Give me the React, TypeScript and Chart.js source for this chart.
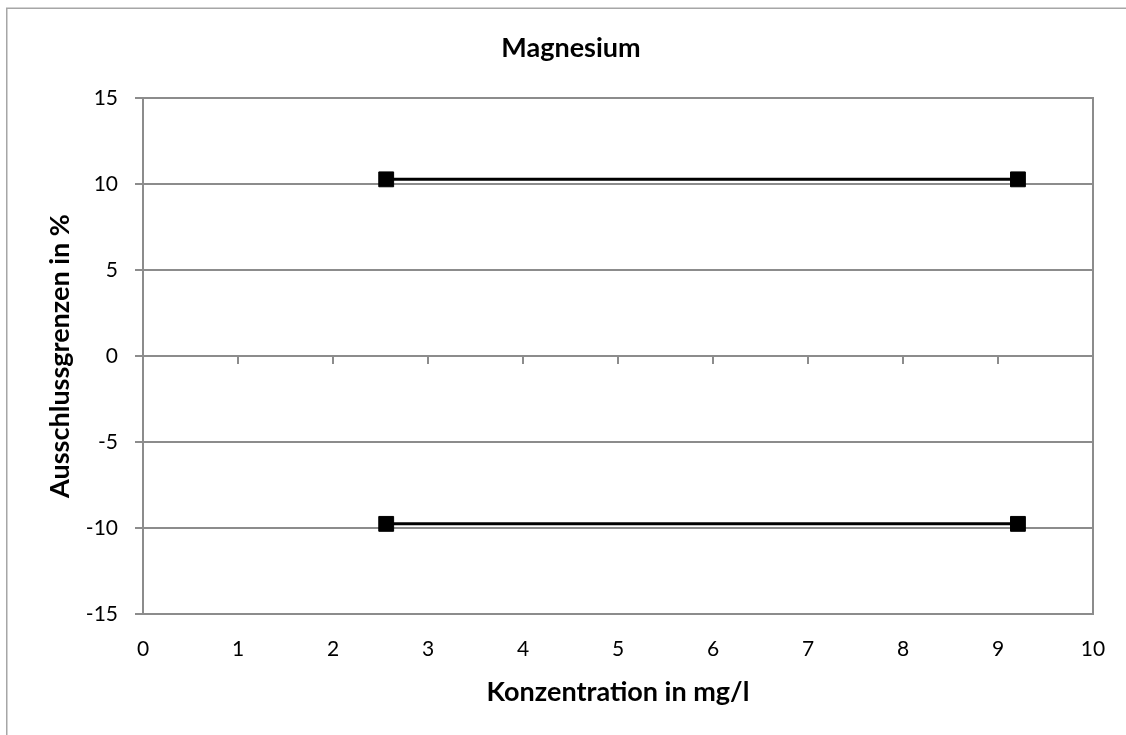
import React, { useEffect, useRef } from "react";
import { Chart, registerables } from "chart.js";

Chart.register(...registerables);

const chartTitle = "Magnesium";
const xAxisTitle = "Konzentration in mg/l";
const yAxisTitle = "Ausschlussgrenzen in %";
const concentrations = [2.56, 9.21];
const upperLimit = [10.27, 10.27];
const lowerLimit = [-9.76, -9.76];
const xTickValues = [0, 1, 2, 3, 4, 5, 6, 7, 8, 9, 10];
const yTickValues = [-15, -10, -5, 0, 5, 10, 15];

const GRAY = "#8c8c8c";

const framePlugin = {
  id: "framePlugin",
  beforeDraw(chart: any) {
    const ctx = chart.ctx;
    ctx.save();
    ctx.fillStyle = "#ffffff";
    ctx.fillRect(0, 0, chart.width, chart.height);
    ctx.strokeStyle = "#a6a6a6";
    ctx.lineWidth = 1.5;
    ctx.strokeRect(6.75, 8.25, chart.width + 40, chart.height + 40);
    ctx.restore();
  },
  beforeDatasetsDraw(chart: any) {
    const ctx = chart.ctx;
    const { chartArea, scales } = chart;
    ctx.save();
    ctx.strokeStyle = GRAY;
    ctx.lineWidth = 2;
    ctx.beginPath();
    ctx.moveTo(chartArea.right, chartArea.top - 1);
    ctx.lineTo(chartArea.right, chartArea.bottom + 1);
    ctx.stroke();
    const y0 = scales.y.getPixelForValue(0);
    ctx.beginPath();
    xTickValues.forEach((v) => {
      const x = Math.round(scales.x.getPixelForValue(v));
      ctx.moveTo(x, y0);
      ctx.lineTo(x, y0 + 8);
    });
    ctx.stroke();
    ctx.restore();
  },
};

export default function App() {
  const ref = useRef<HTMLCanvasElement>(null);
  useEffect(() => {
    if (!ref.current) return;
    const mk = (vals: number[]) => concentrations.map((x, i) => ({ x, y: vals[i] }));
    const dsStyle = {
      showLine: true,
      borderColor: "#000000",
      backgroundColor: "#000000",
      borderWidth: 3,
      pointStyle: "rect" as const,
      pointRadius: 10.5,
      pointBorderWidth: 1,
      pointBorderColor: "#000000",
      pointBackgroundColor: "#000000",
    };
    const chart = new Chart(ref.current, {
      type: "scatter",
      data: {
        datasets: [
          { label: "Obergrenze", data: mk(upperLimit), ...dsStyle },
          { label: "Untergrenze", data: mk(lowerLimit), ...dsStyle },
        ],
      },
      options: {
        animation: false,
        responsive: false,
        layout: { padding: { left: 16, right: 0, top: 0, bottom: 0 } },
        font: { family: "Lato" },
        plugins: {
          legend: { display: false },
          tooltip: { enabled: false },
          title: {
            display: true,
            text: chartTitle,
            color: "#000000",
            font: { family: "Lato", size: 27, weight: "bold", lineHeight: 1.2 },
            padding: { top: 32.4, bottom: 33.2 },
          },
        },
        scales: {
          x: {
            type: "linear",
            min: 0,
            max: 10,
            afterBuildTicks: (s: any) => {
              s.ticks = xTickValues.map((v) => ({ value: v }));
            },
            afterFit: (s: any) => {
              s.height = 121;
            },
            grid: { display: false },
            border: { display: false },
            ticks: {
              color: "#000000",
              font: { family: "Lato", size: 21 },
              padding: 15,
              maxRotation: 0,
              autoSkip: false,
            },
            title: {
              display: true,
              text: xAxisTitle,
              color: "#000000",
              font: { family: "Lato", size: 27, weight: "bold", lineHeight: 1.2 },
              padding: { top: 0, bottom: 26.8 },
            },
          },
          y: {
            type: "linear",
            position: "left",
            min: -15,
            max: 15,
            afterBuildTicks: (s: any) => {
              s.ticks = yTickValues.map((v) => ({ value: v }));
            },
            afterFit: (s: any) => {
              s.width = 127;
            },
            grid: {
              color: GRAY,
              lineWidth: 2,
              drawTicks: true,
              tickLength: 8,
              tickColor: GRAY,
            },
            border: { display: true, color: GRAY, width: 2 },
            ticks: {
              color: "#000000",
              font: { family: "Lato", size: 21 },
              padding: 17,
              autoSkip: false,
            },
            title: {
              display: true,
              text: yAxisTitle,
              color: "#000000",
              font: { family: "Lato", size: 27, weight: "bold", lineHeight: 1.2 },
              padding: { top: 28, bottom: 0 },
            },
          },
          yRight: {
            type: "linear",
            position: "right",
            display: true,
            min: -15,
            max: 15,
            afterFit: (s: any) => {
              s.width = 33;
            },
            grid: { display: false },
            border: { display: false },
            ticks: { display: false },
          },
        },
      },
      plugins: [framePlugin],
    });
    return () => chart.destroy();
  }, []);
  return (
    <div
      style={{
        position: "fixed",
        left: 0,
        top: 0,
        width: 1126,
        height: 735,
        overflow: "hidden",
        background: "#fff",
      }}
    >
      <canvas ref={ref} width={1126} height={735} style={{ display: "block", width: 1126, height: 735 }} />
    </div>
  );
}
